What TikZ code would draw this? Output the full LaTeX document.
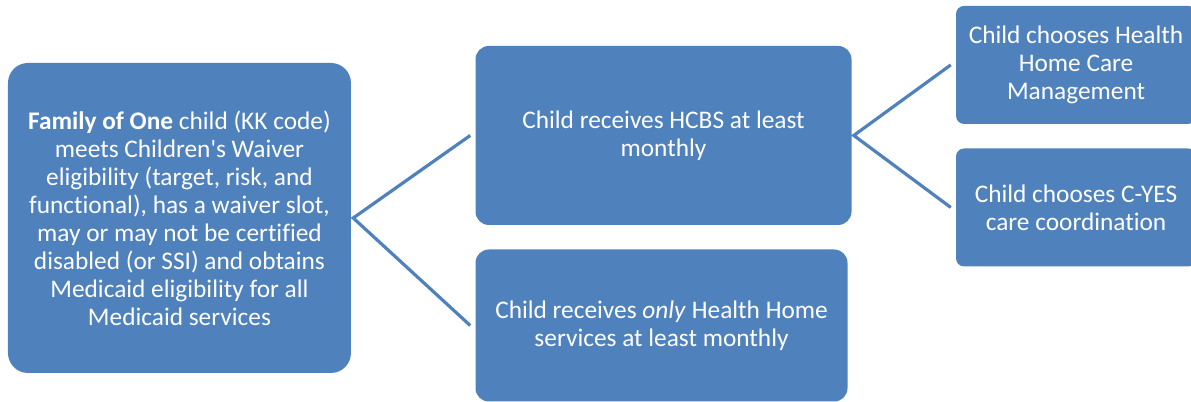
\documentclass[tikz,border=0pt]{standalone}
\usepackage{fontspec}
\setmainfont{Carlito}[Ligatures={TeX,NoCommon}]
\usepackage{tikz}
\usetikzlibrary{positioning}
\definecolor{officeblue}{RGB}{79,129,189}
\tikzstyle{step_box} = [rectangle, fill=officeblue, draw=none, text=white, align=center, inner sep=0pt,
  font=\fontsize{19}{21}\selectfont]
\tikzstyle{link} = [line width=2.4pt, draw=officeblue]

\begin{document}
\begin{tikzpicture}
        \useasboundingbox (0pt,0pt) rectangle (893.25pt,301.5pt);
        % Eligibility -----------------------------------------------------------------------------
        \node[step_box, minimum width=257.25pt, minimum height=232.5pt, rounded corners=15pt] at (134.6pt,138pt)(family){\textbf{Family of One} child (KK code)\\meets Children\textquotesingle s Waiver\\eligibility (target, risk, and\\functional), has a waiver slot,\\may or may not be certified\\disabled (or SSI) and obtains\\Medicaid eligibility for all\\Medicaid services};
        % Services --------------------------------------------------------------------------------
        \node[step_box, minimum width=282pt, minimum height=134.25pt, rounded corners=10pt, right=93pt of family, yshift=61.9pt](hcbs){Child receives HCBS at least\\monthly};
        \node[step_box, minimum width=279pt, minimum height=114pt, rounded corners=10pt, below=18pt of hcbs.south west, anchor=north west](health_home){Child receives \textit{only} Health Home\\services at least monthly};
        % Care choices ----------------------------------------------------------------------------
        \node[step_box, minimum width=180pt, minimum height=88.5pt, rounded corners=6pt, right=78pt of hcbs, yshift=52.9pt](care_mgmt){Child chooses Health\\Home Care\\Management};
        \node[step_box, minimum width=180pt, minimum height=88.5pt, rounded corners=6pt, below=18pt of care_mgmt.south west, anchor=north west](cyes){Child chooses C-YES\\care coordination};
        % Links -----------------------------------------------------------------------------------
        \draw[link] ([xshift=-3.75pt]hcbs.west) -- ([xshift=1.5pt]family.east) -- ([xshift=-3.75pt]health_home.west);
        \draw[link] ([xshift=-3.75pt]care_mgmt.west) -- ([xshift=1.5pt]hcbs.east) -- ([xshift=-3.75pt]cyes.west);
    \end{tikzpicture}
\end{document}
